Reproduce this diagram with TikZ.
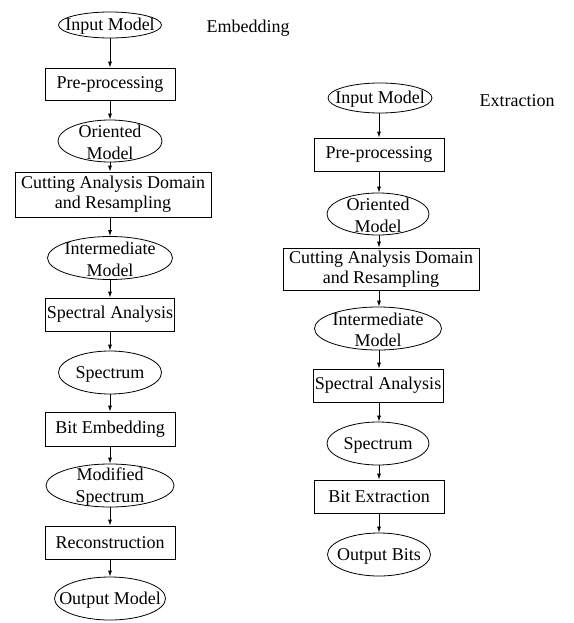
\documentclass[tikz,border=0pt]{standalone}
\usepackage{fontspec}
\setmainfont{Liberation Serif}
\usetikzlibrary{shapes.geometric,arrows.meta}
\begin{document}
\begin{tikzpicture}[x=1pt,y=-1pt,
  every node/.style={font=\fontsize{18}{20}\selectfont},
  procbox/.style={draw,line width=0.8pt,rectangle,inner sep=0pt,align=center},
  oval/.style={draw,line width=0.8pt,ellipse,inner sep=0pt},
  ovaltext/.style={label={[align=center,inner sep=0pt,yshift=-1.5pt,font=\fontsize{18}{21.5}\selectfont]center:#1}},
  arr/.style={line width=0.8pt,-{Latex[length=6pt,width=4pt]}}]
\useasboundingbox (0,0) rectangle (573,623);
\coordinate (cl) at (110,0);
\coordinate (cr) at (379,0);
% left column
\node[oval,minimum width=103pt,minimum height=26pt,ovaltext={Input Model}] (l1) at (110,25) {};
\node (emb) at (248,28) {Embedding};
\node[procbox,minimum width=130pt,minimum height=32pt] (l2) at (110,84) {Pre-processing};
\node[oval,minimum width=104pt,minimum height=42pt,ovaltext={Oriented\\Model}] (l3) at (110,141) {};
\node[procbox,minimum width=196pt,minimum height=45pt] (l4) at (113,194.5) {Cutting Analysis Domain\\and Resampling};
\node[oval,minimum width=125pt,minimum height=43pt,ovaltext={Intermediate\\Model}] (l5) at (110,258) {};
\node[procbox,minimum width=129pt,minimum height=33pt] (l6) at (110,314.5) {Spectral Analysis};
\node[oval,minimum width=103pt,minimum height=43pt,ovaltext={Spectrum}] (l7) at (110,372.5) {};
\node[procbox,minimum width=130pt,minimum height=34pt] (l8) at (110,429) {Bit Embedding};
\node[oval,minimum width=128pt,minimum height=43pt,ovaltext={Modified\\Spectrum}] (l9) at (110,485.5) {};
\node[procbox,minimum width=130pt,minimum height=33pt] (l10) at (110,542.5) {Reconstruction};
\node[oval,minimum width=111pt,minimum height=43pt,ovaltext={Output Model}] (l11) at (110,598.5) {};
% right column
\node[oval,minimum width=104pt,minimum height=30pt,ovaltext={Input Model}] (r1) at (380,98) {};
\node (ext) at (517,101) {Extraction};
\node[procbox,minimum width=130pt,minimum height=33pt] (r2) at (379,154.5) {Pre-processing};
\node[oval,minimum width=102pt,minimum height=42pt,ovaltext={Oriented\\Model}] (r3) at (378,214) {};
\node[procbox,minimum width=196pt,minimum height=42pt] (r4) at (381,269) {Cutting Analysis Domain\\and Resampling};
\node[oval,minimum width=127pt,minimum height=43pt,ovaltext={Intermediate\\Model}] (r5) at (378,328.5) {};
\node[procbox,minimum width=130pt,minimum height=33pt] (r6) at (378,385.5) {Spectral Analysis};
\node[oval,minimum width=102pt,minimum height=43pt,ovaltext={Spectrum}] (r7) at (378,443.5) {};
\node[procbox,minimum width=130pt,minimum height=33pt] (r8) at (379,496.5) {Bit Extraction};
\node[oval,minimum width=103pt,minimum height=43pt,ovaltext={Output Bits}] (r9) at (379,554.5) {};
% arrows left
\foreach \a/\b in {l1/l2,l2/l3,l3/l4,l4/l5,l5/l6,l6/l7,l7/l8,l8/l9,l9/l10,l10/l11}
  \draw[arr] (\a.south -| cl) -- (\b.north -| cl);
% arrows right
\foreach \a/\b in {r1/r2,r2/r3,r3/r4,r4/r5,r5/r6,r6/r7,r7/r8,r8/r9}
  \draw[arr] (\a.south -| cr) -- (\b.north -| cr);
\end{tikzpicture}
\end{document}
